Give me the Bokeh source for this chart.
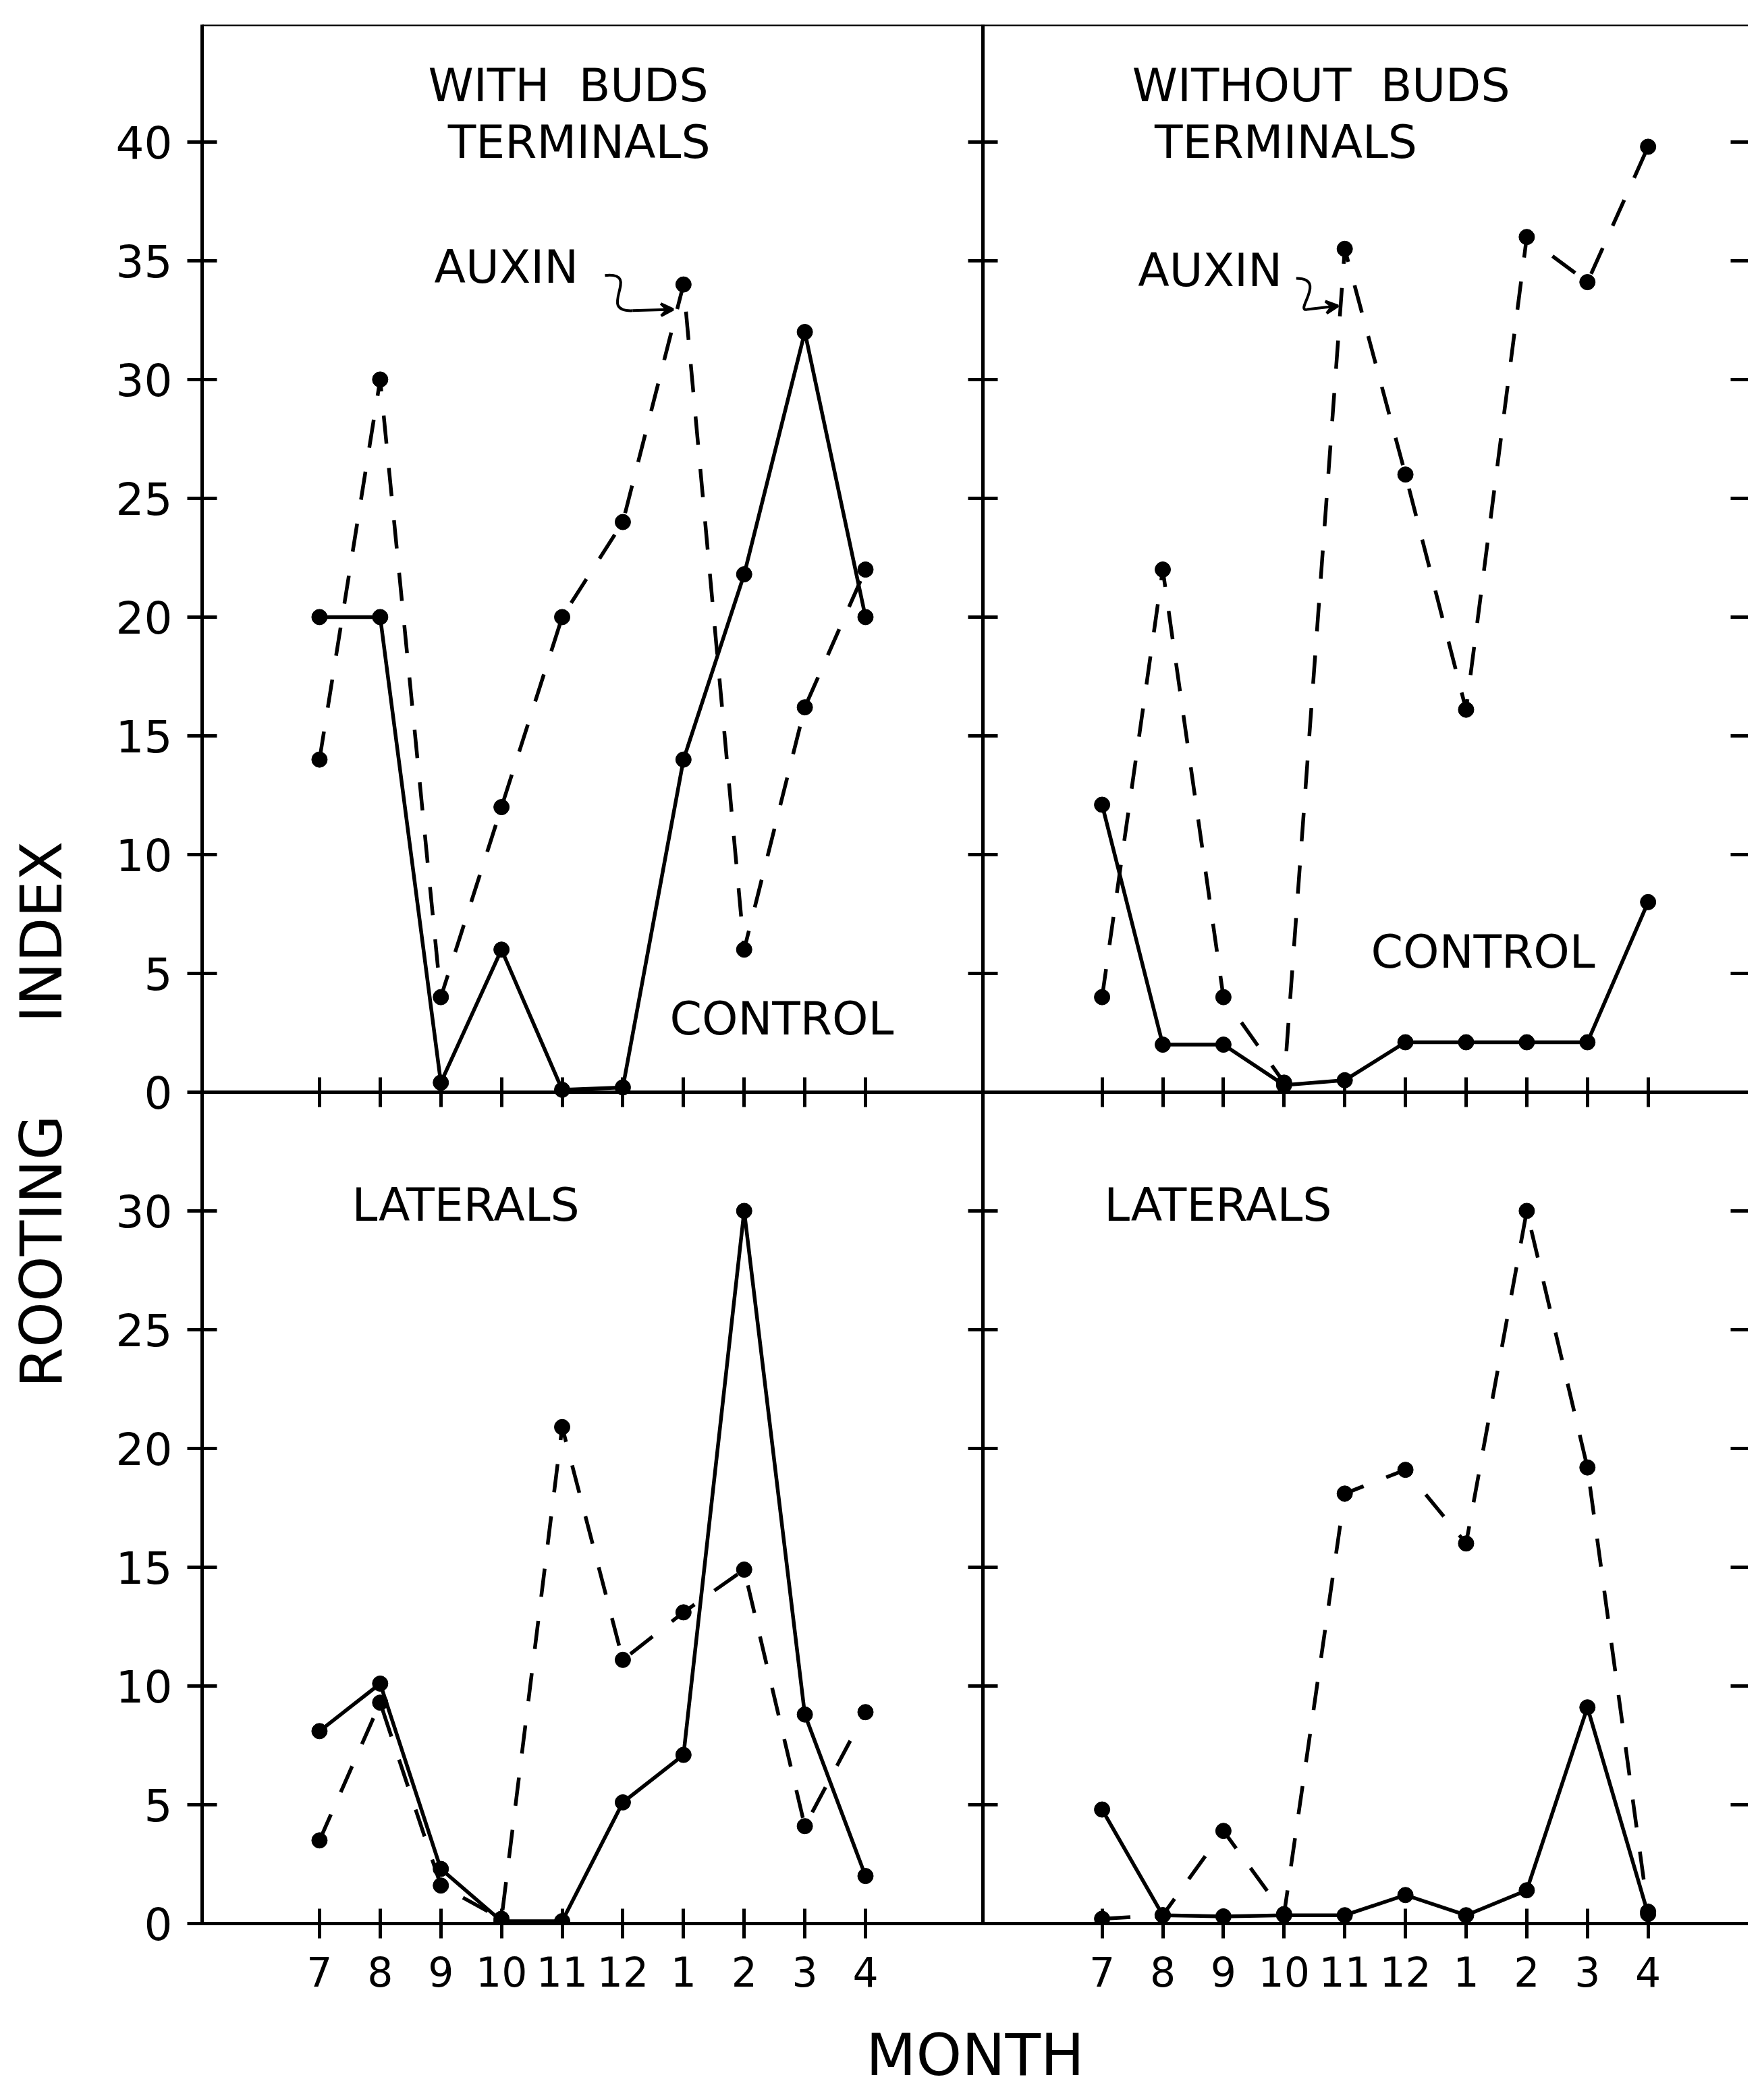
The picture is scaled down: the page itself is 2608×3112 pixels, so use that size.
import numpy as np
from bokeh.plotting import figure
from bokeh.layouts import row
from bokeh.models import (Range1d, FixedTicker, LinearAxis, CustomJSTickFormatter,
                          Label, Span, Arrow, VeeHead)
from bokeh.embed import file_html
from bokeh.resources import INLINE

# ---------------- data ----------------
months = ["7", "8", "9", "10", "11", "12", "1", "2", "3", "4"]

# WITH BUDS - TERMINALS
tl_auxin = [14, 30, 4, 12, 20, 24, 34, 6, 16.2, 22]
tl_control = [20, 20, 0.4, 6, 0.1, 0.2, 14, 21.8, 32, 20]
# WITHOUT BUDS - TERMINALS
tr_auxin = [4, 22, 4, 0.4, 35.5, 26, 16.1, 36, 34.1, 39.8]
tr_control = [12.1, 2, 2, 0.3, 0.5, 2.1, 2.1, 2.1, 2.1, 8]
# WITH BUDS - LATERALS
bl_auxin = [3.5, 9.3, 1.6, 0.2, 20.9, 11.1, 13.1, 14.9, 4.1, 8.9]
bl_control = [8.1, 10.1, 2.3, 0.1, 0.1, 5.1, 7.1, 30, 8.8, 2]
# WITHOUT BUDS - LATERALS
br_auxin = [0.2, 0.35, 3.9, 0.4, 18.1, 19.1, 16.0, 30.0, 19.2, 0.5]
br_control = [4.8, 0.35, 0.3, 0.35, 0.35, 1.2, 0.35, 1.4, 9.1, 0.4]

top_ticks = [0, 5, 10, 15, 20, 25, 30, 35, 40]
bottom_ticks = [0, 5, 10, 15, 20, 25, 30]

# ---------------- layout helpers ----------------
LEFT_X0 = 0.0      # left column offset
RIGHT_X0 = 12.9    # right column offset
TOP_Y0 = 35.0      # top row offset
DIVIDER_X = 10.93

xl = np.arange(len(months)) + LEFT_X0
xr = np.arange(len(months)) + RIGHT_X0

FONT = "DejaVu Sans"
LW = 5.5

# narrow strip holding the vertical axis title
LABEL_W = 140
fa = figure(frame_width=LABEL_W, frame_height=3000,
            x_range=Range1d(0, LABEL_W), y_range=Range1d(0, 3000),
            output_backend="svg", toolbar_location=None,
            x_axis_type=None, y_axis_type=None, min_border=0,
            outline_line_color=None, background_fill_color="white",
            border_fill_color="white")
fa.add_layout(Label(x=60, y=3000 - (1623 - 8), text="ROOTING \u00a0\u00a0\u00a0\u00a0INDEX",
                    angle=np.pi / 2, text_font=FONT, text_font_size="86px",
                    text_align="center", text_baseline="middle", text_color="black"))

p = figure(frame_width=2291, frame_height=2814,
           x_range=Range1d(-1.935, 23.55), y_range=Range1d(0, 79.94),
           output_backend="svg", toolbar_location=None,
           x_axis_type=None, y_axis_type=None,
           min_border_left=307 - 8 - LABEL_W, min_border_top=36, min_border_right=0,
           min_border_bottom=0, outline_line_color=None,
           background_fill_color="white", border_fill_color="white")

ypos = [float(t) for t in bottom_ticks] + [float(t) + TOP_Y0 for t in top_ticks]
ylab = [str(t) for t in bottom_ticks] + [str(t) for t in top_ticks]
xpos = [float(v) for v in xl] + [float(v) for v in xr]
xlab = months + months

fmt_code = """
const i = pos.findIndex(p => Math.abs(p - tick) < 1e-6);
return i >= 0 ? lab[i] : "";
"""
blank = CustomJSTickFormatter(code="return '';")

def style_axis(ax, tin, tout, fsize="66px"):
    ax.major_tick_in = tin
    ax.major_tick_out = tout
    ax.minor_tick_in = 0
    ax.minor_tick_out = 0
    ax.axis_line_width = 5
    ax.axis_line_color = "black"
    ax.major_tick_line_width = 5
    ax.major_tick_line_color = "black"
    ax.major_label_text_font = FONT
    ax.major_label_text_font_size = fsize
    ax.major_label_text_color = "black"

left_axis = LinearAxis(ticker=FixedTicker(ticks=ypos, minor_ticks=[]),
                       formatter=CustomJSTickFormatter(args=dict(pos=ypos, lab=ylab), code=fmt_code))
style_axis(left_axis, 22, 22)
left_axis.major_label_standoff = 22
p.add_layout(left_axis, "left")

bottom_axis = LinearAxis(ticker=FixedTicker(ticks=xpos, minor_ticks=[]),
                         formatter=CustomJSTickFormatter(args=dict(pos=xpos, lab=xlab), code=fmt_code),
                         axis_label="MONTH")
style_axis(bottom_axis, 22, 22, "60px")
bottom_axis.major_label_standoff = 26
bottom_axis.axis_label_text_font = FONT
bottom_axis.axis_label_text_font_size = "86px"
bottom_axis.axis_label_text_font_style = "normal"
bottom_axis.axis_label_text_color = "black"
bottom_axis.axis_label_standoff = 48
p.add_layout(bottom_axis, "below")

mid_axis = LinearAxis(fixed_location=TOP_Y0, ticker=FixedTicker(ticks=xpos, minor_ticks=[]),
                      formatter=blank)
style_axis(mid_axis, 22, 22)
p.add_layout(mid_axis, "below")

div_axis = LinearAxis(fixed_location=DIVIDER_X, ticker=FixedTicker(ticks=ypos, minor_ticks=[]),
                      formatter=blank)
style_axis(div_axis, 22, 22)
p.add_layout(div_axis, "left")

right_axis = LinearAxis(ticker=FixedTicker(ticks=ypos, minor_ticks=[]), formatter=blank)
style_axis(right_axis, 26, 0)
right_axis.axis_line_color = None
right_axis.major_label_standoff = 0
p.add_layout(right_axis, "right")

p.add_layout(Span(location=79.94, dimension="width", line_color="black", line_width=5))

# ---------------- series ----------------
DASH = "42 36"
series = [
    (xl, np.array(tl_control) + TOP_Y0, np.array(tl_auxin) + TOP_Y0),
    (xr, np.array(tr_control) + TOP_Y0, np.array(tr_auxin) + TOP_Y0),
    (xl, np.array(bl_control), np.array(bl_auxin)),
    (xr, np.array(br_control), np.array(br_auxin)),
]
for xs, ctrl, aux in series:
    p.line(xs, ctrl, line_color="black", line_width=LW)
    p.line(xs, aux, line_color="black", line_width=LW, line_dash=DASH)
    p.scatter(xs, ctrl, size=23, color="black")
    p.scatter(xs, aux, size=23, color="black")

# ---------------- texts ----------------
def txt(x, y, s, size="68px", **kw):
    p.add_layout(Label(x=x, y=y, text=s, text_font=FONT, text_font_size=size,
                       text_align="center", text_baseline="middle", text_color="black", **kw))

txt(4.10, 77.39, "WITH \u00a0BUDS")
txt(4.28, 75.0, "TERMINALS")
txt(16.51, 77.39, "WITHOUT \u00a0BUDS")
txt(15.93, 75.0, "TERMINALS")
txt(3.08, 69.74, "AUXIN")
txt(14.68, 69.6, "AUXIN")
txt(7.62, 38.1, "CONTROL")
txt(19.18, 40.9, "CONTROL")
txt(2.41, 30.26, "LATERALS")
txt(14.81, 30.26, "LATERALS")

# squiggly pointers from the AUXIN labels
p.bezier(x0=[4.705, 16.10], y0=[69.38, 69.26], x1=[5.16, 16.28], y1=[67.90, 67.95],
         cx0=[5.33, 16.62], cy0=[69.55, 69.26], cx1=[4.55, 16.06], cy1=[67.84, 67.84],
         line_color="black", line_width=4)
for xs_, ys_, xe_, ye_ in [(5.16, 67.90, 5.83, 67.95), (16.28, 67.95, 16.79, 68.1)]:
    p.add_layout(Arrow(end=VeeHead(size=18, line_width=4, line_color="black", fill_color="black"),
                       x_start=xs_, y_start=ys_, x_end=xe_, y_end=ye_,
                       line_color="black", line_width=4))

layout = row(fa, p)
open("out.html", "w").write(file_html(layout, INLINE))
